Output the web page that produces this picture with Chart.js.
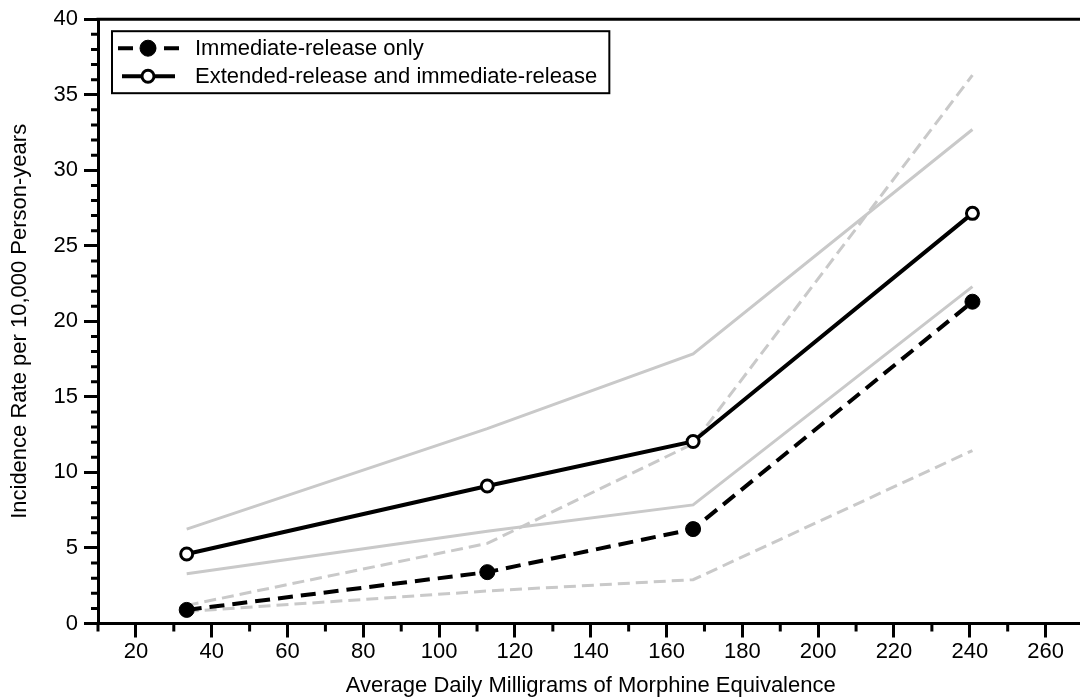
<!DOCTYPE html>
<html>
<head>
<meta charset="utf-8">
<title>Incidence rate by morphine equivalence</title>
<script src="https://cdn.jsdelivr.net/npm/chart.js@4.4.1/dist/chart.umd.min.js"></script>
<style>
  html, body { margin: 0; padding: 0; background: #fff; overflow: hidden; }
  #wrap { width: 1110px; height: 698px; }
</style>
</head>
<body>
<div id="wrap"><canvas id="chart"></canvas></div>
<script>
// average daily MME per group
const doses   = [33.4, 112.7, 167.0, 240.7];

// immediate-release only, with 95% CI
const irOnly  = [0.9, 3.4, 6.25, 21.3];
const irLower = [0.8, 2.15, 2.9, 11.45];
const irUpper = [1.2, 5.3, 11.9, 36.3];

// extended-release and immediate-release, with 95% CI
const erIr    = [4.6, 9.1, 12.05, 27.15];
const erLower = [3.3, 6.1, 7.85, 22.3];
const erUpper = [6.25, 12.9, 17.85, 32.7];

const xMajorTicks = [20, 40, 60, 80, 100, 120, 140, 160, 180, 200, 220, 240, 260];
const yMajorTicks = [0, 5, 10, 15, 20, 25, 30, 35, 40];
const xMinorStep  = 10;
const yMinorStep  = 1;

const FONT = "'Liberation Sans', Arial, Helvetica, sans-serif";
const FSIZE = 22;
const GREY = '#c9c9c9';

const pts = (ys) => doses.map((x, i) => ({ x, y: ys[i] }));

function greyLine(data, dashed) {
  return {
    data: pts(data),
    borderColor: GREY,
    borderWidth: 3,
    borderDash: dashed ? [12, 6] : [],
    pointRadius: 0,
    fill: false,
    order: 2,
    inLegend: false
  };
}

// frame, minor ticks and the boxed legend
const extrasPlugin = {
  id: 'extras',
  afterDraw(chart) {
    const { ctx, chartArea: a, scales } = chart;
    const xs = scales.x, ys = scales.y;
    ctx.save();

    // top border of the frame
    ctx.strokeStyle = '#000';
    ctx.lineWidth = 3;
    ctx.beginPath();
    ctx.moveTo(a.left - 1.5, a.top);
    ctx.lineTo(a.right, a.top);
    ctx.stroke();

    // minor ticks
    ctx.lineWidth = 3;
    ctx.beginPath();
    for (let v = ys.min; v <= ys.max; v += yMinorStep) {
      if (yMajorTicks.includes(v)) continue;
      const py = ys.getPixelForValue(v);
      ctx.moveTo(a.left - 7, py);
      ctx.lineTo(a.left, py);
    }
    for (let v = xs.min; v <= xs.max; v += xMinorStep) {
      if (xMajorTicks.includes(v)) continue;
      const px = xs.getPixelForValue(v);
      ctx.moveTo(px, a.bottom);
      ctx.lineTo(px, a.bottom + 8);
    }
    ctx.stroke();

    // legend
    const items = chart.data.datasets.filter(d => d.inLegend);
    ctx.font = FSIZE + 'px ' + FONT;
    const textW = Math.max(...items.map(d => ctx.measureText(d.label).width));
    const bx = a.left + 14, by = a.top + 12;
    const textX = bx + 83;
    const bw = textX - bx + textW + 12, bh = 62;
    ctx.fillStyle = '#fff';
    ctx.fillRect(bx, by, bw, bh);
    ctx.lineWidth = 2;
    ctx.strokeStyle = '#000';
    ctx.strokeRect(bx, by, bw, bh);

    items.forEach((d, i) => {
      const cy = by + 17 + i * 28;
      const mx = bx + 36;
      const dashed = d.borderDash && d.borderDash.length;
      ctx.strokeStyle = '#000';
      ctx.lineWidth = 4;
      ctx.setLineDash(dashed ? [15, 8] : []);
      ctx.beginPath();
      if (dashed) {
        ctx.moveTo(bx + 6, cy); ctx.lineTo(bx + 67, cy);
      } else {
        ctx.moveTo(bx + 10, cy); ctx.lineTo(bx + 63, cy);
      }
      ctx.stroke();
      ctx.setLineDash([]);
      ctx.beginPath();
      ctx.arc(mx, cy, dashed ? 8 : d.pointRadius, 0, Math.PI * 2);
      ctx.fillStyle = d.pointBackgroundColor;
      ctx.fill();
      ctx.lineWidth = d.pointBorderWidth;
      ctx.strokeStyle = d.pointBorderColor;
      ctx.stroke();

      ctx.fillStyle = '#000';
      ctx.textBaseline = 'middle';
      ctx.textAlign = 'left';
      ctx.fillText(d.label, textX, cy + 1);
    });
    ctx.restore();
  }
};

const ctx = document.getElementById('chart').getContext('2d');
new Chart(ctx, {
  type: 'line',
  data: {
    datasets: [
      {
        label: 'Immediate-release only',
        data: pts(irOnly),
        borderColor: '#000',
        borderWidth: 4,
        borderDash: [15, 8],
        pointRadius: 7.5,
        pointBackgroundColor: '#000',
        pointBorderColor: '#000',
        pointBorderWidth: 1,
        fill: false,
        order: 0,
        inLegend: true
      },
      {
        label: 'Extended-release and immediate-release',
        data: pts(erIr),
        borderColor: '#000',
        borderWidth: 4,
        pointRadius: 6,
        pointBackgroundColor: '#fff',
        pointBorderColor: '#000',
        pointBorderWidth: 3,
        fill: false,
        order: 0,
        inLegend: true
      },
      greyLine(irLower, true),
      greyLine(irUpper, true),
      greyLine(erLower, false),
      greyLine(erUpper, false)
    ]
  },
  options: {
    responsive: true,
    maintainAspectRatio: false,
    animation: false,
    layout: { padding: { top: 19, right: 26.5, left: 0, bottom: 0 } },
    plugins: {
      legend: { display: false },
      tooltip: { enabled: false }
    },
    scales: {
      x: {
        type: 'linear',
        min: 10,
        max: 270,
        afterBuildTicks: s => { s.ticks = xMajorTicks.map(v => ({ value: v })); },
        afterFit: s => { s.height = 74.5; },
        border: { display: true, color: '#000', width: 3 },
        grid: { drawOnChartArea: false, drawTicks: true, tickLength: 14, tickWidth: 3, tickColor: '#000' },
        ticks: { color: '#000', font: { family: FONT, size: FSIZE }, padding: 1, maxRotation: 0 },
        title: {
          display: true,
          text: 'Average Daily Milligrams of Morphine Equivalence',
          color: '#000',
          font: { family: FONT, size: FSIZE, lineHeight: 1.1 },
          padding: { top: 0, bottom: 0 }
        }
      },
      y: {
        type: 'linear',
        min: 0,
        max: 40,
        afterBuildTicks: s => { s.ticks = yMajorTicks.map(v => ({ value: v })); },
        afterFit: s => { s.width = 98; },
        border: { display: true, color: '#000', width: 3 },
        grid: { drawOnChartArea: false, drawTicks: true, tickLength: 14, tickWidth: 3, tickColor: '#000' },
        ticks: { color: '#000', font: { family: FONT, size: FSIZE }, padding: 6 },
        title: {
          display: true,
          text: 'Incidence Rate per 10,000 Person-years',
          color: '#000',
          font: { family: FONT, size: FSIZE, lineHeight: 1.1 },
          padding: { top: 8, bottom: 0 }
        }
      }
    }
  },
  plugins: [extrasPlugin]
});
</script>
</body>
</html>
